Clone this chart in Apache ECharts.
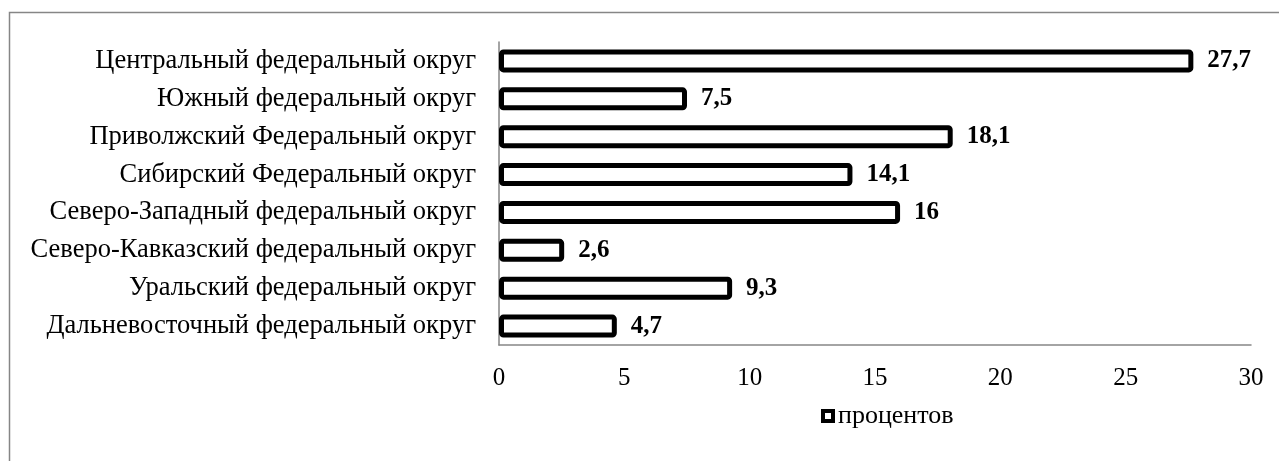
<!DOCTYPE html>
<html>
<head>
<meta charset="utf-8">
<script src="https://cdn.jsdelivr.net/npm/echarts@6/dist/echarts.min.js"></script>
<style>
  html, body { margin: 0; padding: 0; background: #fff; }
  #chart { width: 1279px; height: 461px; }
</style>
</head>
<body>
<div id="chart"></div>
<script>
// регионы сверху вниз, как на картинке
const categories = [
  "Центральный федеральный округ",
  "Южный федеральный округ",
  "Приволжский Федеральный округ",
  "Сибирский Федеральный округ",
  "Северо-Западный федеральный округ",
  "Северо-Кавказский федеральный округ",
  "Уральский федеральный округ",
  "Дальневосточный федеральный округ"
];
const percents = [27.7, 7.5, 18.1, 14.1, 16, 2.6, 9.3, 4.7];
const seriesName = "процентов";

const font = "'Liberation Serif', 'Times New Roman', serif";

const chart = echarts.init(document.getElementById("chart"));
chart.setOption({
  animation: false,
  textStyle: { fontFamily: font },
  graphic: [
    {
      type: "rect",
      shape: { x: 9.5, y: 12.5, width: 1300, height: 500 },
      style: { fill: "none", stroke: "#868686", lineWidth: 1.5 },
      silent: true
    }
  ],
  legend: {
    data: [seriesName],
    top: 398,
    left: 816,
    icon: "rect",
    itemWidth: 10,
    itemHeight: 10,
    itemGap: 5,
    textStyle: { fontFamily: font, fontSize: 26, color: "#000" },
    itemStyle: { color: "#fff", borderColor: "#000", borderWidth: 4 }
  },
  grid: {
    left: 499,
    right: 28,
    top: 42,
    bottom: 116
  },
  xAxis: {
    type: "value",
    min: 0,
    max: 30,
    interval: 5,
    axisLine: { show: true, lineStyle: { color: "#868686", width: 1.5 } },
    axisTick: { show: false },
    splitLine: { show: false },
    axisLabel: { color: "#000", fontSize: 25, fontFamily: font, margin: 21 }
  },
  yAxis: {
    type: "category",
    inverse: true,
    data: categories,
    axisLine: { show: true, lineStyle: { color: "#868686", width: 1.5 } },
    axisTick: { show: false },
    axisLabel: { color: "#000", fontSize: 26.5, fontFamily: font, margin: 23 }
  },
  series: [
    {
      name: seriesName,
      type: "bar",
      data: percents,
      barWidth: 23,
      itemStyle: {
        color: "#fff",
        borderColor: "#000",
        borderWidth: 5,
        borderRadius: 2
      },
      label: {
        show: true,
        position: "right",
        distance: 14,
        color: "#000",
        fontSize: 25,
        fontWeight: "bold",
        fontFamily: font,
        formatter: p => String(p.value).replace(".", ",")
      }
    }
  ]
});
</script>
</body>
</html>
